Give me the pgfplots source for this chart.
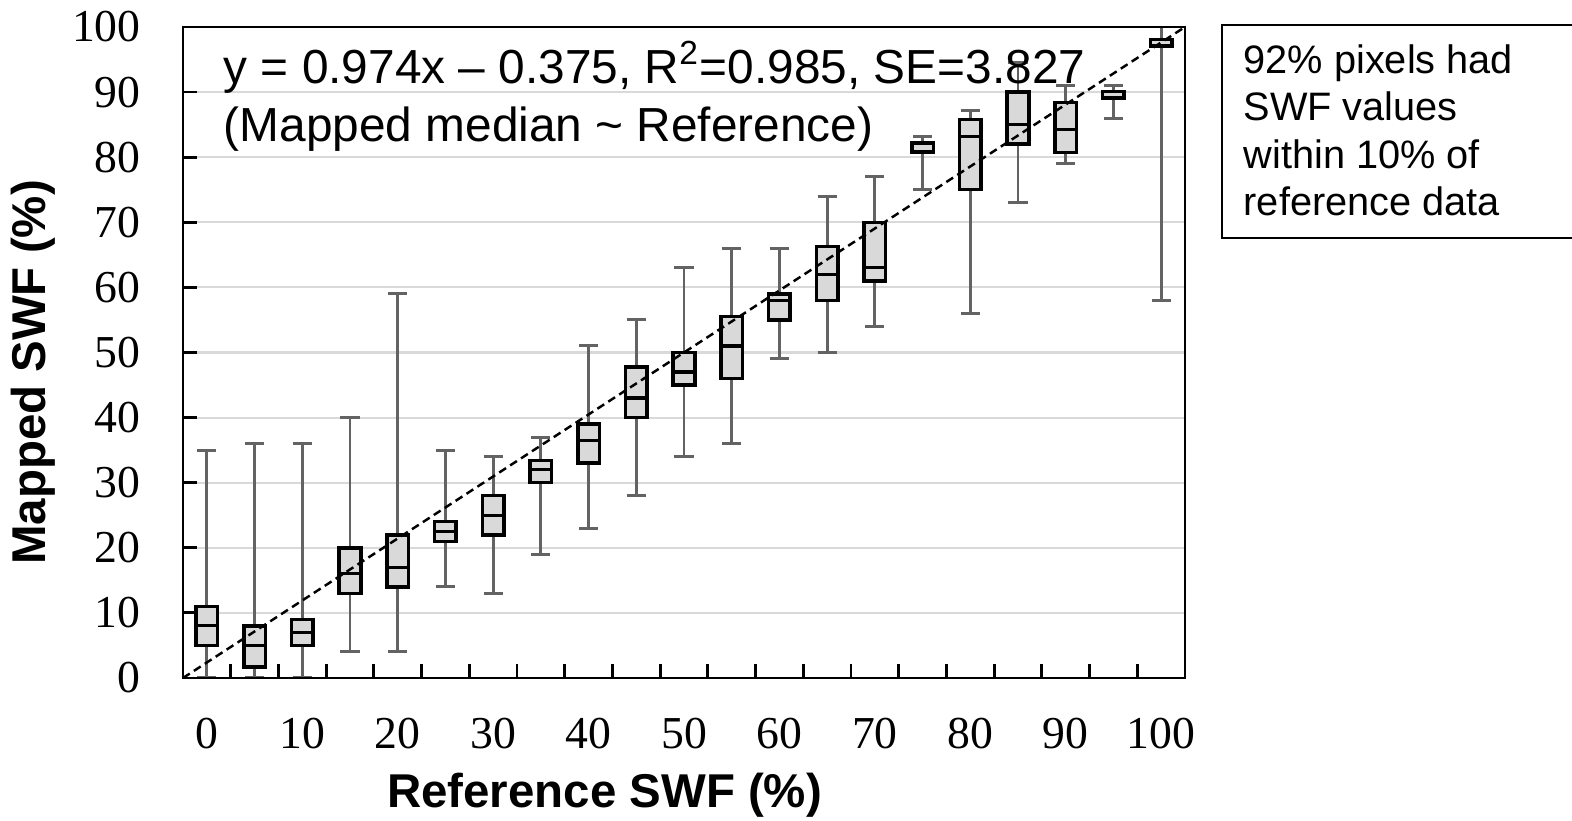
\documentclass[border=0pt]{standalone}
\usepackage{fontspec}
\setmainfont{Liberation Sans}
\newfontfamily\serifnum{Liberation Serif}
\usepackage{pgfplots}
\pgfplotsset{compat=1.18}
\usepgfplotslibrary{statistics}
\usepackage{pgfplotstable}

\definecolor{boxfill}{HTML}{D9D9D9}
\definecolor{whiskgray}{HTML}{636363}
\definecolor{gridgray}{HTML}{D9D9D9}

\pgfplotsset{
  layers/gridbelow/.define layer set={axis background,axis grid,main,axis ticks,axis lines,axis tick labels,axis descriptions,axis foreground}{/pgfplots/layers/standard},
}

% reference SWF class, lower whisker, lower quartile, median, upper quartile, upper whisker
\pgfplotstableread{
pos lw lq med uq uw
0   0  5    8    11   35
5   0  1.7  5    8    36
10  0  5    7    9    36
15  4  13   16   20   40
20  4  14   17   22   59
25  14 21   22.5 24   35
30  13 22   25   28   34
35  19 30   32   33.4 37
40  23 33   36.5 39   51
45  28 40   43   47.8 55
50  34 45   47   50   63
55  36 46   51   55.5 66
60  49 55   58   59   66
65  50 58   62   66.3 74
70  54 61   63   70   77
75  75 80.8 82.1 82.2 83.2
80  56 75   83.2 85.8 87.1
85  73 82   85   90   94.5
90  79 80.7 84.2 88.4 91
95  86 89   89.1 90.1 91
100 58 97   97.1 98.1 100
}\boxdata

\newcommand\getbox[2]{\pgfplotstablegetelem{#1}{#2}\of\boxdata\expandafter\let\csname b#2\endcsname\pgfplotsretval}

\begin{document}
\begin{tikzpicture}
\begin{axis}[
  at={(1.83cm,1.43cm)}, anchor=south west,
  scale only axis, width=10.02cm, height=6.51cm,
  set layers=gridbelow,
  xmin=-2.5, xmax=102.5, ymin=0, ymax=100,
  axis line style={line width=0.8pt},
  tick align=inside, tick pos=left,
  major tick length=0.14cm,
  tick style={black, line width=0.8pt},
  xtick={2.5,7.5,...,97.5}, xticklabels={},
  extra x ticks={0,10,...,100},
  extra x tick style={major tick length=0pt},
  ytick={0,10,...,100},
  ymajorgrids, grid style={gridgray, line width=0.6pt},
  /pgf/number format/assume math mode=true,
  tick label style={font=\serifnum\fontsize{13}{15}\selectfont},
  xticklabel style={yshift=-0.28cm},
  yticklabel style={xshift=-0.3cm},
  xlabel={Reference SWF (\%)}, ylabel={Mapped SWF (\%)},
  every axis x label/.style={at={(axis description cs:0.4207,-0.1797)}, anchor=center,
    font=\bfseries\fontsize{13.5}{16}\selectfont},
  every axis y label/.style={at={(axis description cs:-0.1492,0.4693)}, anchor=center, rotate=90,
    font=\bfseries\fontsize{13.5}{16}\selectfont},
  boxplot/draw direction=y,
  boxplot/box extend=2.26, boxplot/whisker extend=2.0,
  boxplot/every box/.style={draw=black, line width=1pt, fill=boxfill},
  boxplot/every whisker/.style={draw=whiskgray, line width=0.85pt},
  boxplot/every median/.style={draw=black, line width=0.9pt},
]
\pgfplotsinvokeforeach{0,...,20}{
  \getbox{#1}{pos}\getbox{#1}{lw}\getbox{#1}{lq}\getbox{#1}{med}\getbox{#1}{uq}\getbox{#1}{uw}
  \edef\doplot{\noexpand\addplot[boxplot prepared={draw position=\bpos,
      lower whisker=\blw, lower quartile=\blq, median=\bmed,
      upper quartile=\buq, upper whisker=\buw}] coordinates {};}
  \doplot
}
\addplot[black, line width=0.7pt, dash pattern=on 2.3pt off 1.4pt] coordinates {(-2.5,0) (102.5,100)};
\node[anchor=base west, inner sep=0, font=\fontsize{13.6}{16}\selectfont] at (rel axis cs:0.04,0.9135) {y = 0.974x – 0.375, R\textsuperscript{2}=0.985, SE=3.827};
\node[anchor=base west, inner sep=0, font=\fontsize{13.6}{16}\selectfont] at (rel axis cs:0.04,0.824) {(Mapped median \textasciitilde{} Reference)};
\end{axis}
\draw[line width=0.6pt] (16cm,7.96cm) -- (12.22cm,7.96cm) -- (12.22cm,5.83cm) -- (16cm,5.83cm);
\node[anchor=north west, inner sep=0, align=left, font=\fontsize{11.3}{13.5}\selectfont] at (12.43cm,7.77cm)
  {92\% pixels had\\SWF values\\within 10\% of\\reference data};
\pgfresetboundingbox
\useasboundingbox (0,0) rectangle (15.72cm,8.21cm);
\end{tikzpicture}
\end{document}
